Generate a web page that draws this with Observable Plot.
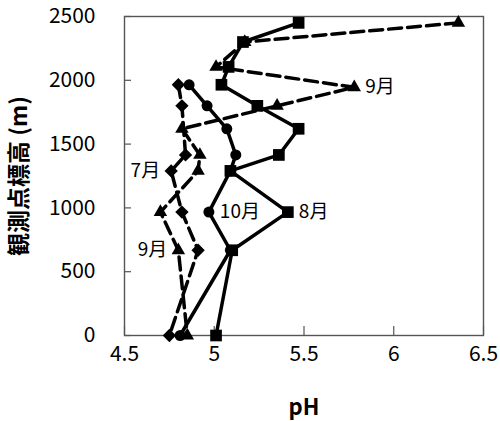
<!DOCTYPE html>
<html>
<head>
<meta charset="utf-8">
<script src="https://cdn.jsdelivr.net/npm/d3@7"></script>
<script src="https://cdn.jsdelivr.net/npm/@observablehq/plot@0.6"></script>
<style>
  html, body { margin: 0; padding: 0; background: #fff; }
  #chart svg { font-family: "Noto Sans CJK JP", "Open Sans", sans-serif; }
</style>
</head>
<body>
<div id="chart"></div>
<script>
// Tick values
const xTicks = [4.5, 5, 5.5, 6, 6.5];
const yTicks = [0, 500, 1000, 1500, 2000, 2500];
const xLabel = "pH";
const yLabel = "観測点標高 (m)";

// 7月 (diamonds, dashed)
const elev7 = [1965, 1800, 1415, 1290, 967, 668, 0];
const ph7   = [4.80, 4.82, 4.84, 4.76, 4.82, 4.91, 4.75];
// 8月 (squares, solid)
const elev8 = [2450, 2300, 2105, 1965, 1800, 1620, 1415, 1290, 967, 668, 0];
const ph8   = [5.47, 5.16, 5.08, 5.04, 5.24, 5.47, 5.36, 5.09, 5.41, 5.10, 5.01];
// 9月 (triangles, dashed)
const elev9 = [2450, 2300, 2105, 1945, 1800, 1620, 1415, 1290, 967, 668, 0];
const ph9   = [6.36, 5.17, 5.01, 5.78, 5.35, 4.82, 4.92, 4.91, 4.70, 4.80, 4.85];
// 10月 (circles, solid)
const elev10 = [1965, 1800, 1620, 1415, 1290, 967, 668, 0];
const ph10   = [4.86, 4.96, 5.07, 5.12, 5.09, 4.97, 5.09, 4.81];

const months = ["7月", "8月", "9月", "10月"];
const elevs = [elev7, elev8, elev9, elev10];
const phs = [ph7, ph8, ph9, ph10];

// label: month text, series index, point index, side
const labelText   = ["9月", "7月", "10月", "8月", "9月"];
const labelSeries = [2, 0, 3, 1, 2];
const labelPoint  = [3, 3, 5, 8, 9];
const labelSide   = ["right", "left", "right", "right", "left"];

const styles = {
  "7月":  {dash: "13,6", symbol: "diamond2", r: 6},
  "8月":  {dash: null,   symbol: "square",   r: 6.6},
  "9月":  {dash: "13,6", symbol: "triangle", r: 5},
  "10月": {dash: null,   symbol: "circle",   r: 5.5}
};

const series = months.map((m, k) => elevs[k].map((e, i) => ({month: m, elev: e, ph: phs[k][i]})));
const labels = labelText.map((t, j) => ({
  text: t,
  ph: phs[labelSeries[j]][labelPoint[j]],
  elev: elevs[labelSeries[j]][labelPoint[j]],
  side: labelSide[j]
}));

const marks = [];
series.forEach((s, k) => {
  const st = styles[months[k]];
  marks.push(Plot.line(s, {x: "ph", y: "elev", stroke: "black", strokeWidth: 3.5,
    strokeDasharray: st.dash, strokeLinejoin: "miter"}));
});
series.forEach((s, k) => {
  const st = styles[months[k]];
  marks.push(Plot.dot(s, {x: "ph", y: "elev", symbol: () => st.symbol, r: st.r, fill: "black", stroke: "none"}));
});

const frameW = 500 - 124 - 17, frameH = 421 - 16 - 86;

const chart = Plot.plot({
  width: 500,
  height: 421,
  marginLeft: 124,
  marginRight: 17,
  marginTop: 16,
  marginBottom: 86,
  style: {background: "white", color: "black"},
  x: {domain: [4.5, 6.5]},
  y: {domain: [0, 2500]},
  marks: [
    Plot.axisX(xTicks, {tickSize: 0, tickPadding: 11, tickFormat: d => String(d), fontSize: 21, label: null}),
    Plot.axisY(yTicks, {tickSize: 0, tickPadding: 29, tickFormat: d => String(d), fontSize: 21, label: null}),
    Plot.text([xLabel], {text: d => d, frameAnchor: "bottom", dy: 72, lineAnchor: "middle",
      fontSize: 22, fontWeight: "bold", fill: "black"}),
    Plot.text([yLabel], {text: d => d, frameAnchor: "left", dx: -105, rotate: -90, lineAnchor: "middle",
      textAnchor: "middle", fontSize: 23, fontWeight: "bold", fill: "black"}),
    Plot.tickX(xTicks, {x: d => d, stroke: "#555", strokeWidth: 1.2, insetTop: frameH - 9}),
    Plot.tickY(yTicks, {y: d => d, stroke: "#555", strokeWidth: 1.2, insetRight: frameW - 7}),
    Plot.frame({stroke: "#555", strokeWidth: 1.4}),
    ...marks,
    Plot.text(labels.filter(d => d.side === "right"), {x: "ph", y: "elev", text: "text", dx: 11,
      textAnchor: "start", fontSize: 19, fill: "black"}),
    Plot.text(labels.filter(d => d.side === "left"), {x: "ph", y: "elev", text: "text", dx: -11,
      textAnchor: "end", fontSize: 19, fill: "black"})
  ]
});
document.getElementById("chart").appendChild(chart);
</script>
</body>
</html>
